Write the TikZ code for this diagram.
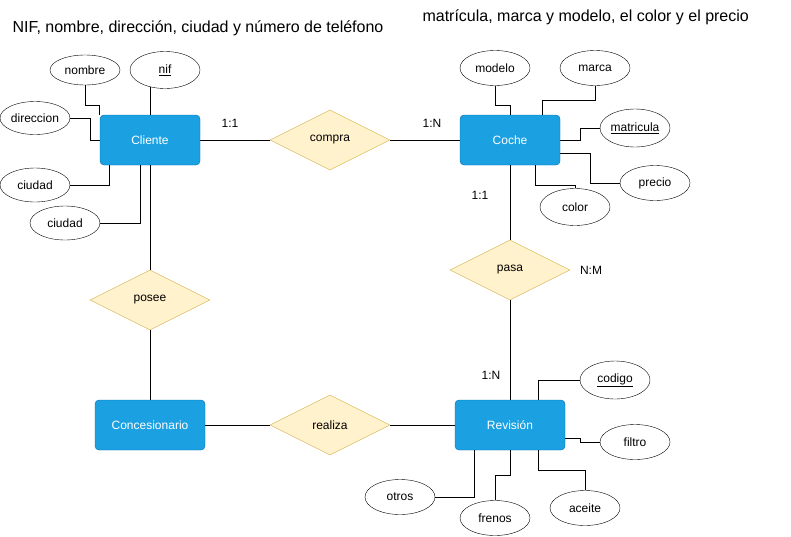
\documentclass[tikz,border=0pt]{standalone}
\usepackage{fontspec}
\setmainfont{Liberation Sans}
\usetikzlibrary{positioning,shapes.geometric,calc}
\definecolor{entfill}{HTML}{1BA1E2}
\definecolor{entline}{HTML}{006EAF}
\definecolor{relfill}{HTML}{FFF2CC}
\definecolor{relline}{HTML}{D6B656}
\tikzstyle{entity}   = [rectangle, rounded corners=4pt, minimum width=100pt, minimum height=50pt, inner sep=0pt, draw=entline, fill=entfill, text=white, font=\fontsize{12}{14}\selectfont]
\tikzstyle{relation} = [diamond, aspect=2, minimum width=120pt, minimum height=60pt, inner sep=0pt, draw=relline, fill=relfill, font=\fontsize{12}{14}\selectfont]
\tikzstyle{attrib}   = [ellipse, minimum width=70pt, minimum height=35pt, inner sep=0pt, draw=black, fill=white, font=\fontsize{12}{14}\selectfont]
\tikzstyle{card}     = [font=\fontsize{12}{14}\selectfont]
\tikzstyle{link}     = [draw=black, line width=1pt]

\begin{document}
\begin{tikzpicture}[x=1pt,y=-1pt]
        \useasboundingbox (0,0) rectangle (791,536);

        \node[anchor=west, font=\fontsize{16}{18}\selectfont] (tcliente) at (9,28) {NIF, nombre, dirección, ciudad y número de teléfono};
        \node[anchor=west, font=\fontsize{16}{18}\selectfont] (tcoche) at (419,17) {matrícula, marca y modelo, el color y el precio};

        \node[entity] (Cliente) at (150,140) {Cliente};
        \node[entity] (Coche) at (510,140) {Coche};
        \node[entity, minimum width=110pt] (Concesionario) at (150,425) {Concesionario};
        \node[entity, minimum width=110pt] (Revision) at (510,425) {Revisión};

        \node[relation] (compra) at (330,140) {compra};
        \node[relation] (posee) at (150,300) {posee};
        \node[relation] (pasa) at (510,270) {pasa};
        \node[relation] (realiza) at (330,425) {realiza};

        \node[attrib, minimum height=30pt] (nombre) at (85,70) {nombre};
        \node[attrib, minimum height=37pt] (nif) at (165,70) {\underline{nif}};
        \node[attrib, minimum height=33pt] (direccion) at (35,118) {direccion};
        \node[attrib, minimum height=34pt] (ciudadA) at (35,185) {ciudad};
        \node[attrib, minimum height=34pt] (ciudadB) at (65,223) {ciudad};

        \node[attrib] (modelo) at (495,68) {modelo};
        \node[attrib] (marca) at (595,68) {marca};
        \node[attrib, minimum height=38pt] (matricula) at (635,128) {\underline{matricula}};
        \node[attrib] (precio) at (655,183) {precio};
        \node[attrib, minimum height=37pt] (color) at (575,207) {color};

        \node[attrib, minimum height=38pt] (codigo) at (615,380) {\underline{codigo}};
        \node[attrib] (filtro) at (635,442) {filtro};
        \node[attrib] (aceite) at (585,508) {aceite};
        \node[attrib] (frenos) at (495,518) {frenos};
        \node[attrib] (otros) at (400,497) {otros};

        \node[card] (c1) at (230,123) {1:1};
        \node[card] (c2) at (432,123) {1:N};
        \node[card] (c3) at (480,195) {1:1};
        \node[card] (c4) at (591,270) {N:M};
        \node[card] (c5) at (491,375) {1:N};

        \draw[link] (Cliente.east) -- (compra.west);
        \draw[link] (compra.east) -- (Coche.west);
        \draw[link] (Cliente.south) -- (posee.north);
        \draw[link] (posee.south) -- (Concesionario.north);
        \draw[link] (Coche.south) -- (pasa.north);
        \draw[link] (pasa.south) -- (Revision.north);
        \draw[link] (Concesionario.east) -- (realiza.west);
        \draw[link] (realiza.east) -- (Revision.west);

        \draw[link] (nombre.south) -- ++(0,20) -| (Cliente.north west);
        \draw[link] (Cliente.north) -- ([yshift=2pt]Cliente.north |- nif.south);
        \draw[link] (direccion.east) -- ++(20,0) |- (Cliente.west);
        \draw[link] (ciudadA.east) -| ([xshift=10pt]Cliente.south west);
        \draw[link] (ciudadB.east) -| ([xshift=-10pt]Cliente.south);

        \draw[link] (modelo.south) -- ++(0,20) -| (Coche.north);
        \draw[link] (marca.south) -- ++(0,15) -| ([xshift=-18pt]Coche.north east);
        \draw[link] (Coche.east) -- ++(20,0) |- (matricula.west);
        \draw[link] ([yshift=-13pt]Coche.east) -- ++(30,0) |- (precio.west);
        \draw[link] ([xshift=-25pt]Coche.south east) -- ++(0,20) -| (color.north);

        \draw[link] ([xshift=-27pt]Revision.north east) |- (codigo.west);
        \draw[link] ([yshift=-13pt]Revision.east) -- ++(15,0) |- (filtro.west);
        \draw[link] ([xshift=-27pt]Revision.south east) -- ++(0,20) -| (aceite.north);
        \draw[link] (Revision.south) -- ++(0,25) -| (frenos.north);
        \draw[link] ([xshift=-36pt]Revision.south) |- (otros.east);
    \end{tikzpicture}
\end{document}
